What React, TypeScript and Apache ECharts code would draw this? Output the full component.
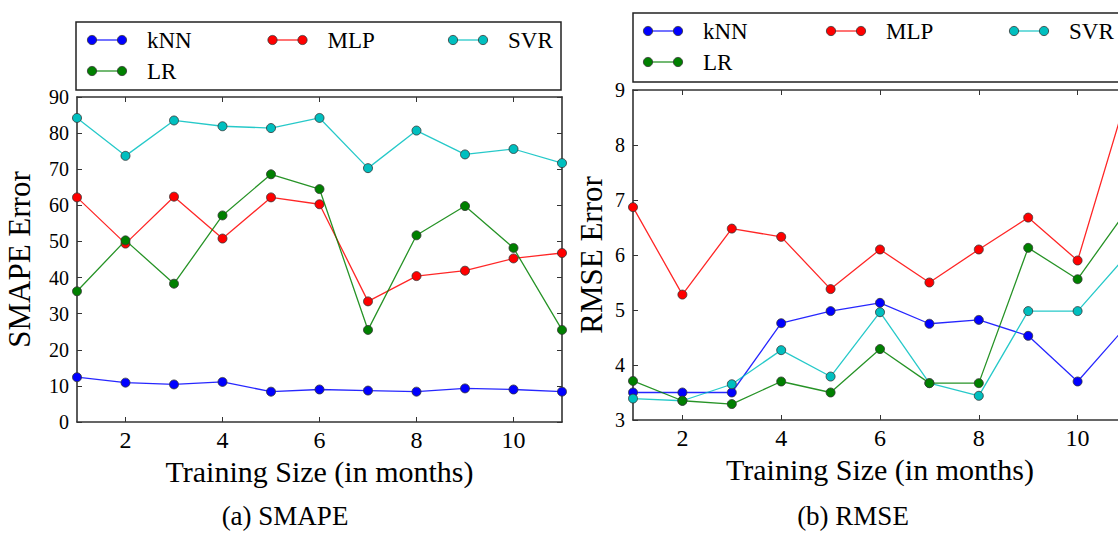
import React, { useEffect, useRef } from "react";
import * as echarts from "echarts";

const months = [1, 2, 3, 4, 5, 6, 7, 8, 9, 10, 11];
const xTicks = [2, 4, 6, 8, 10];
const seriesNames = ["kNN", "MLP", "SVR", "LR"];
const seriesColors = ["#0000ff", "#ff0000", "#00bfbf", "#008000"];

const smapeKNN = [12.4, 10.9, 10.4, 11.1, 8.4, 9.0, 8.7, 8.4, 9.3, 9.0, 8.4];
const smapeMLP = [62.2, 49.4, 62.4, 50.8, 62.2, 60.3, 33.4, 40.4, 41.9, 45.3, 46.8];
const smapeSVR = [84.2, 73.7, 83.5, 81.9, 81.4, 84.2, 70.3, 80.7, 74.1, 75.6, 71.7];
const smapeLR = [36.2, 50.3, 38.3, 57.2, 68.6, 64.5, 25.5, 51.7, 59.8, 48.2, 25.5];

const rmseKNN = [3.5, 3.5, 3.5, 4.76, 4.98, 5.13, 4.75, 4.82, 4.53, 3.7, 4.72];
const rmseMLP = [6.87, 5.28, 6.48, 6.33, 5.38, 6.1, 5.5, 6.1, 6.68, 5.9, 8.9];
const rmseSVR = [3.39, 3.35, 3.65, 4.27, 3.79, 4.96, 3.67, 3.44, 4.98, 4.98, 6.0];
const rmseLR = [3.71, 3.35, 3.29, 3.7, 3.5, 4.29, 3.67, 3.67, 6.13, 5.56, 6.82];

const smapeData = [smapeKNN, smapeMLP, smapeSVR, smapeLR];
const rmseData = [rmseKNN, rmseMLP, rmseSVR, rmseLR];

const FONT = '"Liberation Serif", "Times New Roman", serif';
const FRAME = "#333";

function bottomX(min: number, max: number, gridIndex: number) {
  return {
    type: "value",
    gridIndex,
    position: "bottom",
    min,
    max,
    name: "Training Size (in months)",
    nameLocation: "middle",
    nameGap: 25,
    nameTextStyle: { fontFamily: FONT, fontSize: 30, color: "#000" },
    axisLine: { show: true, onZero: false, lineStyle: { color: FRAME, width: 1.6 } },
    axisTick: { show: true, inside: true, length: 5, customValues: xTicks, lineStyle: { color: FRAME, width: 1 } },
    axisLabel: { show: true, customValues: xTicks, fontFamily: FONT, fontSize: 24, color: "#000", margin: 6 },
    splitLine: { show: false },
  };
}
function topX(min: number, max: number, gridIndex: number) {
  return {
    type: "value",
    gridIndex,
    position: "top",
    min,
    max,
    axisLine: { show: true, onZero: false, lineStyle: { color: FRAME, width: 1.6 } },
    axisTick: { show: true, inside: true, length: 5, customValues: xTicks, lineStyle: { color: FRAME, width: 1 } },
    axisLabel: { show: false },
    splitLine: { show: false },
  };
}
function leftY(min: number, max: number, interval: number, gridIndex: number, name: string, nameGap: number) {
  return {
    type: "value",
    gridIndex,
    position: "left",
    min,
    max,
    interval,
    name,
    nameLocation: "middle",
    nameRotate: 90,
    nameGap,
    nameTextStyle: { fontFamily: FONT, fontSize: 31, color: "#000" },
    axisLine: { show: true, onZero: false, lineStyle: { color: FRAME, width: 1.6 } },
    axisTick: { show: true, inside: true, length: 5, lineStyle: { color: FRAME, width: 1 } },
    axisLabel: { show: true, fontFamily: FONT, fontSize: 20, color: "#000", margin: 8 },
    splitLine: { show: false },
  };
}
function rightY(min: number, max: number, interval: number, gridIndex: number) {
  return {
    type: "value",
    gridIndex,
    position: "right",
    min,
    max,
    interval,
    axisLine: { show: true, onZero: false, lineStyle: { color: FRAME, width: 1.6 } },
    axisTick: { show: true, inside: true, length: 5, lineStyle: { color: FRAME, width: 1 } },
    axisLabel: { show: false },
    splitLine: { show: false },
  };
}

function makeSeries(dataSets: number[][], axisIndex: number) {
  return dataSets.map((vals, i) => ({
    type: "line",
    name: seriesNames[i],
    xAxisIndex: axisIndex,
    yAxisIndex: axisIndex,
    data: months.map((m, j) => [m, vals[j]]),
    symbol: "circle",
    symbolSize: 9,
    showSymbol: true,
    itemStyle: { color: seriesColors[i], borderColor: "#333", borderWidth: 0.8 },
    lineStyle: { color: seriesColors[i], width: 1.3, opacity: 0.85 },
    z: 3 + i,
  }));
}

function legendGraphic(box: { x: number; y: number; w: number; h: number }, x0: number, y0: number, colGap: number, rowGap: number) {
  const els: any[] = [
    {
      type: "rect",
      shape: { x: box.x, y: box.y, width: box.w, height: box.h },
      style: { fill: "#fff", stroke: "#222", lineWidth: 1.5 },
      z: 10,
    },
  ];
  seriesNames.forEach((name, i) => {
    const col = i % 3;
    const row = Math.floor(i / 3);
    const x = x0 + col * colGap;
    const y = y0 + row * rowGap;
    els.push({
      type: "line",
      shape: { x1: x, y1: y, x2: x + 30, y2: y },
      style: { stroke: seriesColors[i], lineWidth: 1.3, opacity: 0.85 },
      z: 11,
    });
    [x, x + 30].forEach((cx) =>
      els.push({
        type: "circle",
        shape: { cx, cy: y, r: 4.6 },
        style: { fill: seriesColors[i], stroke: "#333", lineWidth: 0.8 },
        z: 12,
      })
    );
    els.push({
      type: "text",
      x: x + 55,
      y,
      style: {
        text: name,
        fontFamily: FONT,
        fontSize: 23,
        fill: "#000",
        align: "left",
        verticalAlign: "middle",
        textAlign: "left",
        textVerticalAlign: "middle",
      },
      z: 12,
    });
  });
  return els;
}

function caption(text: string, x: number, y: number) {
  return {
    type: "text",
    x,
    y,
    style: {
      text,
      fontFamily: FONT,
      fontSize: 27,
      fill: "#000",
      align: "center",
      verticalAlign: "middle",
      textAlign: "center",
      textVerticalAlign: "middle",
    },
  };
}

export default function App() {
  const ref = useRef<HTMLDivElement>(null);
  useEffect(() => {
    if (!ref.current) return;
    const chart = echarts.init(ref.current, null, { renderer: "svg" });
    chart.setOption({
      animation: false,
      backgroundColor: "#fff",
      grid: [
        { left: 77, top: 97, width: 485, height: 325, outerBoundsMode: "none", containLabel: false },
        { left: 633, top: 90, width: 494, height: 330, outerBoundsMode: "none", containLabel: false },
      ],
      xAxis: [bottomX(1, 11, 0), topX(1, 11, 0), bottomX(1, 11, 1), topX(1, 11, 1)],
      yAxis: [
        leftY(0, 90, 10, 0, "SMAPE Error", 42),
        rightY(0, 90, 10, 0),
        leftY(3, 9, 1, 1, "RMSE Error", 26),
        rightY(3, 9, 1, 1),
      ],
      series: [...makeSeries(smapeData, 0), ...makeSeries(rmseData, 2)],
      graphic: [
        ...legendGraphic({ x: 76, y: 22, w: 485, h: 68 }, 92, 40, 180.5, 31),
        ...legendGraphic({ x: 633, y: 13, w: 520, h: 69 }, 648, 31, 183, 31),
        caption("(a) SMAPE", 285, 516),
        caption("(b) RMSE", 853, 516),
      ],
    });
    return () => chart.dispose();
  }, []);
  return (
    <div style={{ position: "fixed", left: 0, top: 0, width: 1118, height: 536, background: "#fff" }}>
      <div ref={ref} style={{ width: 1118, height: 536 }} />
    </div>
  );
}
